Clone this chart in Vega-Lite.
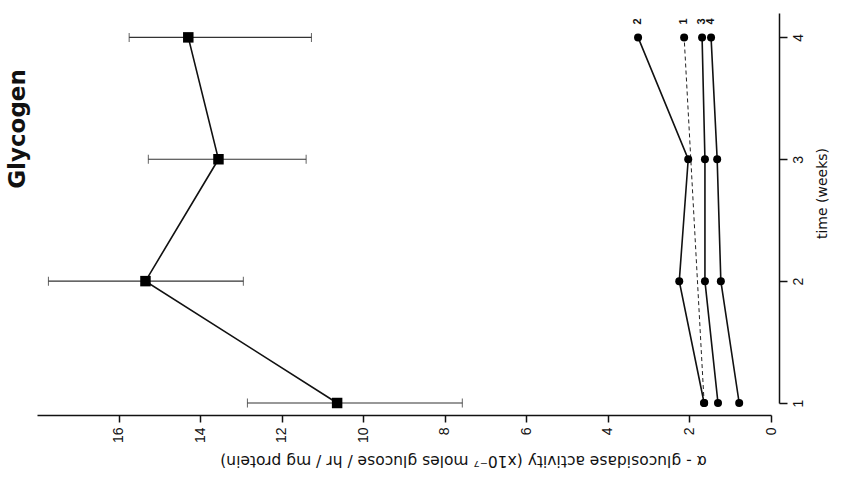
{
  "$schema": "https://vega.github.io/schema/vega-lite/v6.json",
  "width": 734,
  "height": 390,
  "autosize": {"type": "none"},
  "padding": {"left": 37, "top": 13, "right": 72, "bottom": 79},
  "background": "white",
  "config": {
    "view": {"stroke": null},
    "font": "Liberation Sans",
    "axis": {
      "grid": false,
      "domainColor": "#111",
      "domainWidth": 1.5,
      "tickColor": "#111",
      "tickWidth": 1.5,
      "labelColor": "#111",
      "titleColor": "#111",
      "labelFont": "Liberation Sans",
      "titleFont": "DejaVu Sans",
      "labelFontSize": 14,
      "titleFontSize": 14,
      "titleFontWeight": "normal"
    }
  },
  "title": {
    "text": "Glycogen",
    "orient": "left",
    "anchor": "middle",
    "angle": -90,
    "baseline": "bottom",
    "offset": -16,
    "dx": 79,
    "font": "DejaVu Sans",
    "fontSize": 23,
    "fontWeight": "bold",
    "color": "#111"
  },
  "data": {
    "values": [
      {"series": "G", "week": 1, "value": 10.64, "lo": 7.57, "hi": 12.84},
      {"series": "G", "week": 2, "value": 15.34, "lo": 12.94, "hi": 17.72},
      {"series": "G", "week": 3, "value": 13.55, "lo": 11.40, "hi": 15.27},
      {"series": "G", "week": 4, "value": 14.29, "lo": 11.27, "hi": 15.74},
      {"series": "1", "week": 1, "value": 1.64},
      {"series": "1", "week": 4, "value": 2.13},
      {"series": "2", "week": 1, "value": 1.64},
      {"series": "2", "week": 2, "value": 2.25},
      {"series": "2", "week": 3, "value": 2.03},
      {"series": "2", "week": 4, "value": 3.26},
      {"series": "3", "week": 1, "value": 1.30},
      {"series": "3", "week": 2, "value": 1.62},
      {"series": "3", "week": 3, "value": 1.62},
      {"series": "3", "week": 4, "value": 1.69},
      {"series": "4", "week": 1, "value": 0.78},
      {"series": "4", "week": 2, "value": 1.23},
      {"series": "4", "week": 3, "value": 1.32},
      {"series": "4", "week": 4, "value": 1.47}
    ]
  },
  "encoding": {
    "x": {
      "field": "value",
      "type": "quantitative",
      "scale": {"domain": [0, 18], "reverse": true, "nice": false, "zero": false},
      "axis": {
        "values": [0, 2, 4, 6, 8, 10, 12, 14, 16],
        "offset": 12,
        "tickSize": 7,
        "labelAngle": 270,
        "labelAlign": "right",
        "labelBaseline": "middle",
        "labelPadding": 5,
        "title": "α - glucosidase activity (x10⁻⁷ moles glucose / hr / mg protein)",
        "titleFontSize": 15.5,
        "titleAngle": 180,
        "titleX": 426,
        "titleY": 45,
        "titleAlign": "center",
        "titleBaseline": "middle"
      }
    },
    "y": {
      "field": "week",
      "type": "quantitative",
      "scale": {"domain": [1, 4.2], "nice": false, "zero": false},
      "axis": {
        "orient": "right",
        "values": [1, 2, 3, 4],
        "offset": 8,
        "tickSize": 8,
        "labelAngle": 270,
        "labelAlign": "center",
        "labelBaseline": "top",
        "labelPadding": 4,
        "title": "time (weeks)",
        "titleAngle": -90,
        "titleX": 43,
        "titleY": 180,
        "titleAlign": "center",
        "titleBaseline": "middle"
      }
    }
  },
  "layer": [
    {
      "transform": [{"filter": "datum.series == 'G'"}],
      "mark": {"type": "errorbar", "ticks": {"size": 9, "color": "#222", "strokeWidth": 1.2}, "rule": {"color": "#333", "strokeWidth": 1.2}},
      "encoding": {
        "x": {"field": "lo", "type": "quantitative"},
        "x2": {"field": "hi"}
      }
    },
    {
      "transform": [{"filter": "datum.series != '1'"}],
      "mark": {"type": "line", "color": "#111", "strokeWidth": 1.6},
      "encoding": {
        "detail": {"field": "series"},
        "order": {"field": "week", "type": "quantitative"}
      }
    },
    {
      "transform": [{"filter": "datum.series == '1'"}],
      "mark": {"type": "line", "color": "#222", "strokeWidth": 1, "strokeDash": [4, 3]},
      "encoding": {
        "order": {"field": "week", "type": "quantitative"}
      }
    },
    {
      "transform": [{"filter": "datum.series == 'G'"}],
      "mark": {"type": "point", "shape": "square", "filled": true, "color": "#000", "size": 110, "opacity": 1},
      "encoding": {}
    },
    {
      "transform": [{"filter": "datum.series != 'G'"}],
      "mark": {"type": "point", "shape": "circle", "filled": true, "color": "#000", "size": 64, "opacity": 1},
      "encoding": {}
    },
    {
      "transform": [{"filter": "datum.series != 'G' && datum.week == 4"}],
      "mark": {"type": "text", "angle": 270, "dx": 16, "align": "center", "baseline": "middle", "fontSize": 11, "fontWeight": "bold", "color": "#111"},
      "encoding": {"text": {"field": "series"}}
    }
  ]
}
